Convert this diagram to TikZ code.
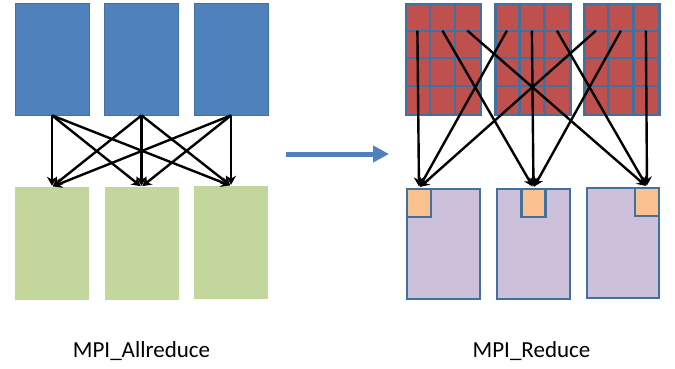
\documentclass[tikz,border=0pt]{standalone}
\usepackage{fontspec}
\setmainfont{Carlito}
\usetikzlibrary{arrows.meta,calc}
\definecolor{boxblue}{HTML}{4F81BD}
\definecolor{edgeblue}{HTML}{41719C}
\definecolor{boxgreen}{HTML}{C3D69B}
\definecolor{boxred}{HTML}{C0504D}
\definecolor{boxlilac}{HTML}{CCC0DA}
\definecolor{boxorange}{HTML}{FAC090}
\tikzset{
  srcbox/.style={rectangle, inner sep=0pt, fill=boxblue, draw=edgeblue, line width=0.8pt,
                 minimum width=74pt, minimum height=112pt},
  dstbox/.style={rectangle, inner sep=0pt, fill=boxgreen,
                 minimum width=74pt, minimum height=113pt},
  gridbox/.style={rectangle, inner sep=0pt, fill=boxred, draw=edgeblue, line width=2.2pt,
                  minimum width=75pt, minimum height=111pt},
  resbox/.style={rectangle, inner sep=0pt, fill=boxlilac, draw=edgeblue, line width=2.2pt,
                 minimum width=73pt, minimum height=110pt},
  cellbox/.style={rectangle, inner sep=0pt, fill=boxorange, draw=edgeblue, line width=2.2pt,
                  minimum width=24pt, minimum height=28pt},
  gridline/.style={edgeblue, line width=2.2pt},
  flow/.style={draw=black, line width=2.4pt, -{Stealth[length=9pt,width=10pt]}},
  caption/.style={font=\fontsize{23}{27}\selectfont, text=black, inner sep=0pt}
}
\begin{document}
\begin{tikzpicture}[x=1pt,y=-1pt]
\useasboundingbox[fill=white] (0,0) rectangle (675,369);

% ---- MPI_Allreduce: every source feeds every destination ----
\node[srcbox] (a1) at (52,59) {};
\node[srcbox] (a2) at (141.5,59) {};
\node[srcbox] (a3) at (231,59) {};
\node[dstbox] (b1) at (52,243.5) {};
\node[dstbox] (b2) at (141.5,243.5) {};
\node[dstbox] (b3) at (231,242.5) {};
\foreach \i in {1,2,3}
  \foreach \j in {1,2,3}
    \draw[flow, shorten >=1pt] (a\i.south) -- (b\j.north);

% ---- transition arrow ----
\coordinate (arrS) at (286,154);
\coordinate (arrE) at (389,154);
\draw[boxblue, line width=5pt, -{Triangle[length=16pt,width=16pt]}] (arrS) -- (arrE);

% ---- MPI_Reduce: gridded sources, one block per destination ----
\node[gridbox] (r1) at (443.5,59.5) {};
\node[gridbox] (r2) at (533,59.5) {};
\node[gridbox] (r3) at (622,59.5) {};
\foreach \k in {1,2,3} {
  \foreach \c in {1,2}
    \draw[gridline]
      ($(r\k.north west)+(25*\c,0)$) -- ($(r\k.south west)+(25*\c,0)$);
  \foreach \r in {1,2,3}
    \draw[gridline]
      ($(r\k.north west)+(0,27.75*\r)$) -- ($(r\k.north east)+(0,27.75*\r)$);
  \foreach \c in {1,2,3}
    \coordinate (s\k\c) at ($(r\k.north west)+(25*\c-12.5,27.75)$);
}

\node[resbox] (p1) at (443.5,244) {};
\node[resbox] (p2) at (533.5,244) {};
\node[resbox, minimum width=72pt] (p3) at (623,243) {};
\node[cellbox, anchor=north west] (o1) at (p1.north west) {};
\node[cellbox, anchor=north] (o2) at (p2.north) {};
\node[cellbox, anchor=north east] (o3) at (p3.north east) {};

\foreach \k in {1,2,3}
  \foreach \c in {1,2,3}
    \draw[flow, shorten >=1.5pt] (s\k\c) -- (o\c.north);

% ---- captions ----
\node[caption] (capA) at (141.5,351) {MPI\_Allreduce};
\node[caption] (capB) at (531.5,351) {MPI\_Reduce};
\end{tikzpicture}
\end{document}
